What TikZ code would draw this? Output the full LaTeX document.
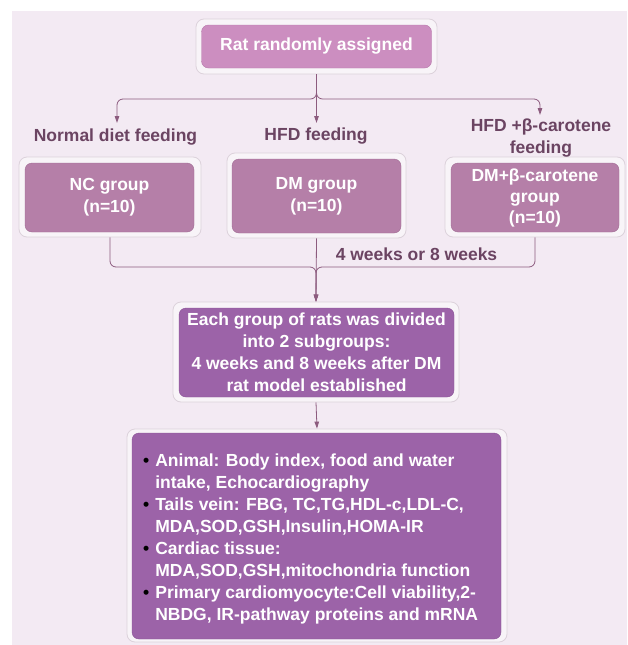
\documentclass[tikz,border=0pt]{standalone}
\usepackage{fontspec}
\setmainfont{Liberation Sans}
\usetikzlibrary{arrows.meta}
\definecolor{panelbg}{HTML}{F3EAF3}
\definecolor{framefill}{HTML}{F8F4F8}
\definecolor{framedraw}{HTML}{DCD2DB}
\definecolor{pinkbox}{HTML}{CC8EC0}
\definecolor{pinkdraw}{HTML}{B677A9}
\definecolor{mauvebox}{HTML}{B57FA8}
\definecolor{mauvedraw}{HTML}{A06C93}
\definecolor{purplebox}{HTML}{9C63A8}
\definecolor{purpledraw}{HTML}{8A5496}
\definecolor{labeltext}{HTML}{6B4462}
\definecolor{linecol}{HTML}{8C5B7E}
\newcommand{\blackdot}{\textcolor{black}{\textbullet}}
\tikzset{
  frame/.style={draw=framedraw, fill=framefill, rounded corners=8pt, line width=0.8pt, inner sep=0pt},
  boxfont/.style={font=\bfseries\fontsize{17.5}{22}\selectfont, text=white, align=center},
  topbox/.style={boxfont, draw=pinkdraw, fill=pinkbox, rounded corners=7pt, inner sep=0pt},
  grpbox/.style={boxfont, draw=mauvedraw, fill=mauvebox, rounded corners=7pt, inner sep=0pt},
  purbox/.style={boxfont, draw=purpledraw, fill=purplebox, rounded corners=7pt, inner sep=0pt},
  lbl/.style={font=\bfseries\fontsize{17.5}{22}\selectfont, text=labeltext, align=center, inner sep=0pt},
  conn/.style={draw=linecol, line width=0.8pt, -{Triangle[length=7pt,width=4.5pt]}},
  plain/.style={draw=linecol, line width=0.8pt}
}
\begin{document}
\begin{tikzpicture}[x=1pt,y=-1pt]
\useasboundingbox (0,0) rectangle (627,645);
\fill[white] (0,0) rectangle (627,645);
\fill[panelbg] (12,11) rectangle (627,645);

% frames
\node[frame, minimum width=241pt, minimum height=55pt] (topf) at (316.5,46.5) {};
\node[frame, minimum width=182pt, minimum height=80pt] (ncf) at (110,197) {};
\node[frame, minimum width=179pt, minimum height=85pt] (dmf) at (316.5,195.5) {};
\node[frame, minimum width=180pt, minimum height=80pt] (dmbf) at (535,197) {};
\node[frame, minimum width=286pt, minimum height=100pt] (eachf) at (316,352) {};
\node[frame, minimum width=380pt, minimum height=213pt] (botf) at (317,535.5) {};

% boxes
\node[topbox, minimum width=230pt, minimum height=43pt] (top) at (316.5,46.5) {Rat randomly assigned};
\node[grpbox, minimum width=169pt, minimum height=69pt] (nc) at (109.5,197.5) {NC group\\(n=10)};
\node[grpbox, minimum width=169pt, minimum height=74pt] (dm) at (316.5,196) {DM group\\(n=10)};
\node[grpbox, minimum width=168pt, minimum height=69pt, font=\bfseries\fontsize{17.5}{21}\selectfont] (dmb) at (535,197.5) {DM+β-carotene\\group\\(n=10)};
\node[purbox, minimum width=275pt, minimum height=89pt] (each) at (316.5,352.5) {Each group of rats was divided\\into 2 subgroups:\\4 weeks and 8 weeks after DM\\rat model established};
\node[purbox, minimum width=369pt, minimum height=206pt] (bot) at (316.5,536) {};
\node[font=\bfseries\fontsize{17.5}{22}\selectfont, text=white, anchor=west, inner sep=0pt] (botlist) at (143,539.5) {%
\begin{tabular}{@{}l@{\hspace{6pt}}l@{}}
\blackdot & Animal: Body index, food and water\\
 & intake, Echocardiography\\
\blackdot & Tails vein: FBG, TC,TG,HDL-c,LDL-C,\\
 & MDA,SOD,GSH,Insulin,HOMA-IR\\
\blackdot & Cardiac tissue:\\
 & MDA,SOD,GSH,mitochondria function\\
\blackdot & Primary cardiomyocyte:Cell viability,2-\\
 & NBDG, IR-pathway proteins and mRNA
\end{tabular}};

% labels
\node[lbl] (l1) at (115.5,137) {Normal diet feeding};
\node[lbl] (l2) at (316,136) {HFD feeding};
\node[lbl] (l3) at (541,138) {HFD +β-carotene\\feeding};
\node[lbl] (l4) at (416.5,254) {4 weeks or 8 weeks};

% connectors
\coordinate (a1) at (117,123);
\coordinate (a2) at (316.5,123);
\coordinate (a3) at (540,115);
\coordinate (j1) at (316.5,99);
\coordinate (j2) at (316,267);
\draw[conn, rounded corners=6pt] (topf.south) -- (j1) -| (a1);
\draw[conn] (topf.south) -- (a2);
\draw[conn, rounded corners=6pt] (topf.south) -- (j1) -| (a3);

\draw[conn, rounded corners=6pt] (ncf.south) |- (j2) -- (eachf.north);
\draw[conn] (dmf.south) -- (eachf.north);
\draw[conn, rounded corners=6pt] (dmbf.south) |- (j2) -- (eachf.north);
\draw[conn] (eachf.south) -- (botf.north);
\end{tikzpicture}
\end{document}
